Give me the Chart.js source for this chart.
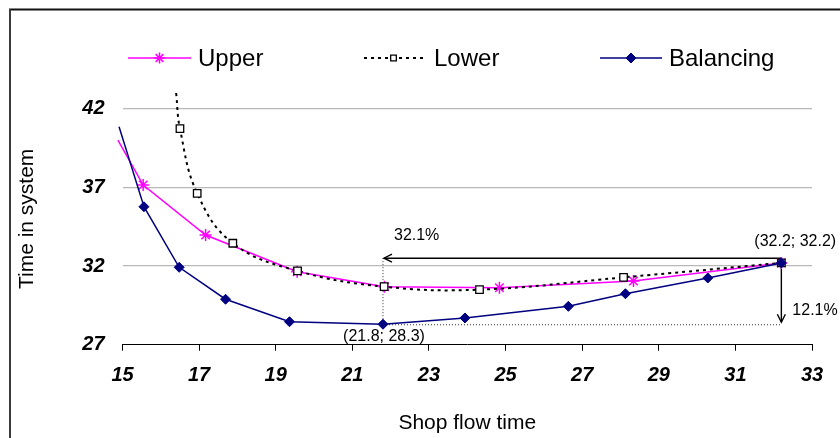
<!DOCTYPE html>
<html>
<head>
<meta charset="utf-8">
<script src="https://cdn.jsdelivr.net/npm/chart.js@4/dist/chart.umd.min.js"></script>
<style>
  html, body { margin: 0; padding: 0; background: #fff; }
  canvas { display: block; }
</style>
</head>
<body>
<canvas id="chart" width="840" height="438"></canvas>
<script>
// Series names and values (shop flow time vs. time in system)
const seriesNames = ['Upper', 'Lower', 'Balancing'];

const upperX = [14.88, 15.54, 17.17, 19.56, 21.84, 24.84, 28.34, 32.2];
const upperY = [40.0, 37.15, 33.97, 31.64, 30.69, 30.62, 31.05, 32.2];

const lowerX = [16.40, 16.50, 16.95, 17.88, 19.57, 21.83, 24.32, 28.08, 32.2];
const lowerY = [43.0, 40.73, 36.62, 33.45, 31.69, 30.69, 30.50, 31.28, 32.2];

const balancingX = [14.91, 15.56, 16.48, 17.69, 19.36, 21.8, 23.94, 26.64, 28.13, 30.28, 32.2];
const balancingY = [40.86, 35.77, 31.92, 29.89, 28.46, 28.3, 28.70, 29.44, 30.24, 31.24, 32.2];

// Axis ticks
const xTicks = [15, 17, 19, 21, 23, 25, 27, 29, 31, 33];
const yTicks = [27, 32, 37, 42];

// Annotated points and percentages
const minPoint = [21.8, 28.3];
const endPoint = [32.2, 32.2];
const arrowLevel = 32.5;
const horizontalGap = '32.1%';
const verticalGap = '12.1%';

const FONT = "'Liberation Sans', Arial, sans-serif";
const toPoints = (xs, ys) => xs.map((x, i) => ({ x, y: ys[i] }));
// the first value of each series only carries the line in from the edge, no marker
const markerRadii = (n, r) => Array.from({ length: n }, (_, i) => (i === 0 ? 0 : r));

const pageFrame = {
  id: 'pageFrame',
  beforeDraw(chart) {
    const ctx = chart.ctx;
    ctx.save();
    ctx.fillStyle = '#fff';
    ctx.fillRect(0, 0, chart.width, chart.height);
    ctx.lineWidth = 2;
    ctx.strokeStyle = '#111';
    ctx.beginPath();
    ctx.moveTo(9, 9.5);
    ctx.lineTo(chart.width, 9.5);
    ctx.stroke();
    ctx.strokeStyle = '#3a3a3a';
    ctx.beginPath();
    ctx.moveTo(10, 9);
    ctx.lineTo(10, chart.height);
    ctx.stroke();
    ctx.restore();
  }
};

function arrowHead(ctx, x, y, dir) {
  // dir: 'left' or 'down'
  ctx.beginPath();
  if (dir === 'left') {
    ctx.moveTo(x + 8, y - 4);
    ctx.lineTo(x, y);
    ctx.lineTo(x + 8, y + 4);
  } else {
    ctx.moveTo(x - 4, y - 8);
    ctx.lineTo(x, y);
    ctx.lineTo(x + 4, y - 8);
  }
  ctx.stroke();
}

const gapAnnotations = {
  id: 'gapAnnotations',
  beforeDatasetsDraw(chart) {
    const { ctx, scales: { x, y } } = chart;
    const xMin = x.getPixelForValue(minPoint[0]);
    const yMin = y.getPixelForValue(minPoint[1]);
    const xEnd = x.getPixelForValue(endPoint[0]);
    const yEnd = y.getPixelForValue(endPoint[1]);
    const yArrow = y.getPixelForValue(arrowLevel);

    ctx.save();
    // dotted guides
    ctx.strokeStyle = '#333';
    ctx.lineWidth = 1;
    ctx.setLineDash([1, 2]);
    ctx.beginPath();
    ctx.moveTo(xMin, yArrow);
    ctx.lineTo(xMin, yMin);
    ctx.moveTo(xMin, yMin + 0.5);
    ctx.lineTo(xEnd, yMin + 0.5);
    ctx.stroke();
    ctx.setLineDash([]);

    // arrows
    ctx.strokeStyle = '#000';
    ctx.lineWidth = 1.4;
    ctx.beginPath();
    ctx.moveTo(xEnd, yArrow);
    ctx.lineTo(xMin + 1, yArrow);
    ctx.moveTo(xEnd, yArrow);
    ctx.lineTo(xEnd, yMin - 2);
    ctx.stroke();
    arrowHead(ctx, xMin + 1, yArrow, 'left');
    arrowHead(ctx, xEnd, yMin - 2, 'down');

    // labels
    ctx.fillStyle = '#000';
    ctx.font = `16px ${FONT}`;
    ctx.textBaseline = 'middle';
    ctx.textAlign = 'left';
    ctx.fillText(horizontalGap, xMin + 11, yArrow - 23);
    ctx.fillText(`(${endPoint[0]}; ${endPoint[1]})`, xEnd - 27, yEnd - 21);
    ctx.fillText(verticalGap, xEnd + 11, yMin - 13.5);
    ctx.textAlign = 'center';
    ctx.fillText(`(${minPoint[0]}; ${minPoint[1]})`, xMin + 1, yMin + 12.5);
    ctx.restore();
  }
};

// Legend row: line sample with marker, then the series name
const lineLegend = {
  id: 'lineLegend',
  afterDraw(chart) {
    const ctx = chart.ctx;
    const entries = [
      { ds: 0, x0: 128, x1: 191, tx: 198 },
      { ds: 1, x0: 364, x1: 423, tx: 434 },
      { ds: 2, x0: 600, x1: 662, tx: 669 }
    ];
    const yMid = 58;
    ctx.save();
    entries.forEach(e => {
      const ds = chart.data.datasets[e.ds];
      ctx.strokeStyle = ds.borderColor;
      ctx.lineWidth = ds.borderWidth;
      ctx.setLineDash(ds.borderDash || []);
      ctx.beginPath();
      ctx.moveTo(e.x0, yMid);
      ctx.lineTo(e.x1, yMid);
      ctx.stroke();
      ctx.setLineDash([]);
      ctx.fillStyle = ds.pointBackgroundColor;
      ctx.strokeStyle = ds.pointBorderColor;
      ctx.lineWidth = ds.pointBorderWidth;
      Chart.helpers.drawPoint(ctx, {
        pointStyle: ds.pointStyle,
        radius: ds.legendRadius,
        rotation: 0,
        borderWidth: ds.pointBorderWidth
      }, (e.x0 + e.x1) / 2, yMid);
      ctx.fillStyle = '#000';
      ctx.font = `24px ${FONT}`;
      ctx.textBaseline = 'middle';
      ctx.textAlign = 'left';
      ctx.fillText(ds.label, e.tx, yMid + 1);
    });
    ctx.restore();
  }
};

new Chart(document.getElementById('chart'), {
  type: 'line',
  data: {
    datasets: [
      {
        label: seriesNames[0],
        data: toPoints(upperX, upperY),
        borderColor: '#ff00ff',
        borderWidth: 1.5,
        pointStyle: 'star',
        pointRadius: markerRadii(upperX.length, 6),
        legendRadius: 5.5,
        pointBorderColor: '#ff00ff',
        pointBackgroundColor: '#ff00ff',
        pointBorderWidth: 1.5,
        tension: 0,
        clip: { left: 10, top: 0, right: 10, bottom: 10 },
        order: 3
      },
      {
        label: seriesNames[1],
        data: toPoints(lowerX, lowerY),
        borderColor: '#000000',
        borderWidth: 2,
        borderDash: [3, 4],
        pointStyle: 'rect',
        pointRadius: markerRadii(lowerX.length, 5.3),
        legendRadius: 4,
        pointBorderColor: '#000000',
        pointBackgroundColor: '#ffffff',
        pointBorderWidth: 1.3,
        tension: 0.4,
        clip: { left: 10, top: 0, right: 10, bottom: 10 },
        order: 2
      },
      {
        label: seriesNames[2],
        data: toPoints(balancingX, balancingY),
        borderColor: '#000080',
        borderWidth: 1.5,
        pointStyle: 'rectRot',
        pointRadius: markerRadii(balancingX.length, 5),
        legendRadius: 5,
        pointBorderColor: '#000080',
        pointBackgroundColor: '#000080',
        pointBorderWidth: 1,
        tension: 0,
        clip: { left: 10, top: 0, right: 10, bottom: 10 },
        order: 1
      }
    ]
  },
  options: {
    responsive: false,
    animation: false,
    devicePixelRatio: 1,
    layout: { padding: { left: 0, right: 28, top: 93, bottom: 0 } },
    plugins: { legend: { display: false }, tooltip: { enabled: false } },
    scales: {
      x: {
        type: 'linear',
        min: 15,
        max: 33,
        afterBuildTicks: s => { s.ticks = xTicks.map(v => ({ value: v })); },
        afterFit: s => { s.height = 93.3; },
        grid: { drawOnChartArea: false, drawTicks: true, tickLength: 6, color: '#000', lineWidth: 1 },
        border: { display: true, color: '#000', width: 1 },
        ticks: {
          padding: 13,
          color: '#000',
          font: { family: FONT, size: 20, weight: 'bold', style: 'italic' }
        },
        title: {
          display: true,
          text: 'Shop flow time',
          color: '#000',
          font: { family: FONT, size: 21 },
          padding: { top: 0, bottom: 2 }
        }
      },
      y: {
        type: 'linear',
        min: 27,
        max: 43,
        afterBuildTicks: s => { s.ticks = yTicks.map(v => ({ value: v })); },
        afterFit: s => { s.width = 122.5; },
        grid: {
          drawTicks: false,
          color: ctx => (ctx.tick && ctx.tick.value === 27 ? 'rgba(0,0,0,0)' : '#b8b8b8'),
          lineWidth: 1.2
        },
        border: { display: false },
        ticks: {
          padding: 18,
          color: '#000',
          font: { family: FONT, size: 20, weight: 'bold', style: 'italic' }
        },
        title: {
          display: true,
          text: 'Time in system',
          color: '#000',
          font: { family: FONT, size: 21 },
          padding: { top: 15, bottom: 0 }
        }
      }
    }
  },
  plugins: [pageFrame, gapAnnotations, lineLegend]
});
</script>
</body>
</html>
